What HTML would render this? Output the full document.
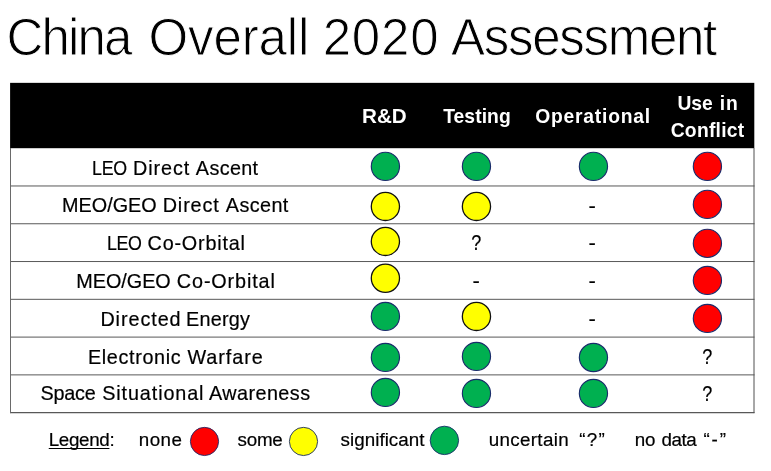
<!DOCTYPE html>
<html lang="en"><head><meta charset="utf-8"><title>China Overall 2020 Assessment</title>
<style>
html,body{margin:0;padding:0;background:#fff}
body{width:771px;height:471px;position:relative;overflow:hidden;font-family:"Liberation Sans",sans-serif;color:#000}
svg{position:absolute;left:0;top:0}
.t{position:absolute;white-space:nowrap;line-height:1;display:block;margin:0;font-weight:normal}
.title{-webkit-text-stroke:0.9px #fff;color:#000}
.t.hd{font-weight:bold;color:#fff}
.lb,.lg,.sy{-webkit-text-stroke:0.2px #000}
.u{text-decoration:underline;text-decoration-thickness:1.2px;text-underline-offset:2.3px;text-decoration-skip-ink:none}
</style></head><body>
<svg width="771" height="471" viewBox="0 0 771 471">
<rect x="10.1" y="82.85" width="744.2" height="65.35" fill="#000"/>
<line x1="10.5" y1="185.98" x2="754.5" y2="185.98" stroke="#585858" stroke-width="1"/>
<line x1="10.5" y1="223.76" x2="754.5" y2="223.76" stroke="#585858" stroke-width="1"/>
<line x1="10.5" y1="261.54" x2="754.5" y2="261.54" stroke="#585858" stroke-width="1"/>
<line x1="10.5" y1="299.32" x2="754.5" y2="299.32" stroke="#585858" stroke-width="1"/>
<line x1="10.5" y1="337.10" x2="754.5" y2="337.10" stroke="#585858" stroke-width="1"/>
<line x1="10.5" y1="374.88" x2="754.5" y2="374.88" stroke="#585858" stroke-width="1"/>
<line x1="10" y1="412.66" x2="754.5" y2="412.66" stroke="#585858" stroke-width="1.1"/>
<line x1="10.5" y1="148" x2="10.5" y2="413.1" stroke="#6a6a6a" stroke-width="1"/>
<line x1="754.0" y1="148" x2="754.0" y2="413.1" stroke="#505050" stroke-width="1"/>
<circle cx="385.4" cy="166.4" r="14.1" fill="#00B050" stroke="#1a2b6b" stroke-width="1.15"/>
<circle cx="476.45" cy="166.4" r="14.1" fill="#00B050" stroke="#1a2b6b" stroke-width="1.15"/>
<circle cx="593.45" cy="166.4" r="14.1" fill="#00B050" stroke="#1a2b6b" stroke-width="1.15"/>
<circle cx="707.4" cy="166.4" r="14.1" fill="#FF0000" stroke="#1a2b6b" stroke-width="1.15"/>
<circle cx="385.4" cy="206.4" r="14.1" fill="#FFFF00" stroke="#111" stroke-width="1.3"/>
<circle cx="476.45" cy="206.4" r="14.1" fill="#FFFF00" stroke="#111" stroke-width="1.3"/>
<circle cx="707.4" cy="204.4" r="14.1" fill="#FF0000" stroke="#1a2b6b" stroke-width="1.15"/>
<circle cx="385.4" cy="241.4" r="14.1" fill="#FFFF00" stroke="#111" stroke-width="1.3"/>
<circle cx="707.4" cy="243.4" r="14.1" fill="#FF0000" stroke="#1a2b6b" stroke-width="1.15"/>
<circle cx="385.4" cy="278.2" r="14.1" fill="#FFFF00" stroke="#111" stroke-width="1.3"/>
<circle cx="707.4" cy="280.4" r="14.1" fill="#FF0000" stroke="#1a2b6b" stroke-width="1.15"/>
<circle cx="385.4" cy="316.4" r="14.1" fill="#00B050" stroke="#1a2b6b" stroke-width="1.15"/>
<circle cx="476.45" cy="316.4" r="14.1" fill="#FFFF00" stroke="#111" stroke-width="1.3"/>
<circle cx="707.4" cy="318.4" r="14.1" fill="#FF0000" stroke="#1a2b6b" stroke-width="1.15"/>
<circle cx="385.4" cy="357.4" r="14.1" fill="#00B050" stroke="#1a2b6b" stroke-width="1.15"/>
<circle cx="476.45" cy="356.4" r="14.1" fill="#00B050" stroke="#1a2b6b" stroke-width="1.15"/>
<circle cx="593.45" cy="357.5" r="14.1" fill="#00B050" stroke="#1a2b6b" stroke-width="1.15"/>
<circle cx="385.4" cy="392.4" r="14.1" fill="#00B050" stroke="#1a2b6b" stroke-width="1.15"/>
<circle cx="476.45" cy="393.4" r="14.1" fill="#00B050" stroke="#1a2b6b" stroke-width="1.15"/>
<circle cx="593.45" cy="393.4" r="14.1" fill="#00B050" stroke="#1a2b6b" stroke-width="1.15"/>
<circle cx="204.5" cy="441.45" r="14.1" fill="#FF0000" stroke="#1a2b6b" stroke-width="0.9"/>
<circle cx="303.5" cy="441.45" r="14.1" fill="#FFFF00" stroke="#1a2b6b" stroke-width="0.9"/>
<circle cx="444.4" cy="440.4" r="14.2" fill="#00B050" stroke="#1a2b6b" stroke-width="0.9"/>
</svg>
<h1 class="t title" id="t" style="left:9.50px;top:11.83px;font-size:51px"><span id="t_0" style="letter-spacing:-1.800px;margin-left:-3.14px">China</span> <span id="t_1" style="letter-spacing:-0.120px;margin-left:3.65px">Overall</span> <span id="t_2" style="letter-spacing:0.825px;margin-left:-0.68px">2020</span> <span id="t_3" style="letter-spacing:-1.275px;margin-left:-2.63px">Assessment</span></h1>
<div class="t hd" id="h1" style="left:363.50px;top:107.46px;font-size:19.3px"><span id="h1_0" style="margin-left:-1.14px;display:inline-block;transform:scaleX(1.07);transform-origin:0 50%">R&amp;D</span></div>
<div class="t hd" id="h2" style="left:443.40px;top:107.46px;font-size:19.3px"><span id="h2_0" style="letter-spacing:0.080px;margin-left:-0.27px">Testing</span></div>
<div class="t hd" id="h3" style="left:535.90px;top:107.36px;font-size:19.3px"><span id="h3_0" style="letter-spacing:0.788px;margin-left:-0.73px">Operational</span></div>
<div class="t hd" id="h4" style="left:678.70px;top:93.96px;font-size:19.3px"><span id="h4_0" style="letter-spacing:-0.006px;margin-left:-1.27px">Use</span> <span id="h4_1" style="letter-spacing:0.900px;margin-left:1.56px">in</span></div>
<div class="t hd" id="h5" style="left:671.40px;top:121.46px;font-size:19.3px"><span id="h5_0" style="letter-spacing:0.262px;margin-left:-0.73px">Conflict</span></div>
<div class="t lb" id="r1" style="left:93.30px;top:159.24px;font-size:19.8px"><span id="r1_0" style="letter-spacing:-0.250px;margin-left:-1.36px;display:inline-block;transform:scaleX(0.9);transform-origin:0 50%">LEO</span> <span id="r1_1" style="letter-spacing:0.900px;margin-left:-3.22px">Direct</span> <span id="r1_2" style="letter-spacing:0.360px;margin-left:0.22px">Ascent</span></div>
<div class="t lb" id="r2" style="left:63.60px;top:196.44px;font-size:19.8px"><span id="r2_0" style="letter-spacing:0.005px;margin-left:-1.52px">MEO/GEO</span> <span id="r2_1" style="letter-spacing:0.900px;margin-left:0.52px">Direct</span> <span id="r2_2" style="letter-spacing:0.405px;margin-left:0.60px">Ascent</span></div>
<div class="t lb" id="r3" style="left:107.60px;top:234.24px;font-size:19.8px"><span id="r3_0" style="letter-spacing:-0.500px;margin-left:-0.85px;display:inline-block;transform:scaleX(0.9);transform-origin:0 50%">LEO</span> <span id="r3_1" style="letter-spacing:0.800px;margin-left:-2.77px">Co-Orbital</span></div>
<div class="t lb" id="r4" style="left:77.60px;top:272.04px;font-size:19.8px"><span id="r4_0" style="letter-spacing:0.005px;margin-left:-1.40px">MEO/GEO</span> <span id="r4_1" style="letter-spacing:0.875px;margin-left:0.60px">Co-Orbital</span></div>
<div class="t lb" id="r5" style="left:101.90px;top:310.24px;font-size:19.8px"><span id="r5_0" style="letter-spacing:0.937px;margin-left:-1.53px">Directed</span> <span id="r5_1" style="letter-spacing:0.270px;margin-left:-1.12px">Energy</span></div>
<div class="t lb" id="r6" style="left:89.50px;top:348.24px;font-size:19.8px"><span id="r6_0" style="letter-spacing:0.650px;margin-left:-1.58px">Electronic</span> <span id="r6_1" style="letter-spacing:0.946px;margin-left:0.66px">Warfare</span></div>
<div class="t lb" id="r7" style="left:41.30px;top:384.44px;font-size:19.8px"><span id="r7_0" style="letter-spacing:-0.221px;margin-left:-0.77px">Space</span> <span id="r7_1" style="letter-spacing:0.891px;margin-left:1.19px">Situational</span> <span id="r7_2" style="letter-spacing:0.450px;margin-left:-0.98px">Awareness</span></div>
<div class="t sy" id="q1" style="left:472.10px;top:232.28px;font-size:22px;transform:scaleX(0.82);transform-origin:0 0"><span id="q1_0" style="margin-left:-0.77px">?</span></div>
<div class="t sy" id="q2" style="left:703.10px;top:346.28px;font-size:22px;transform:scaleX(0.82);transform-origin:0 0"><span id="q2_0" style="margin-left:-0.77px">?</span></div>
<div class="t sy" id="q3" style="left:703.10px;top:383.08px;font-size:22px;transform:scaleX(0.82);transform-origin:0 0"><span id="q3_0" style="margin-left:-0.77px">?</span></div>
<div class="t sy" id="d1" style="left:473.40px;top:270.18px;font-size:22px"><span id="d1_0" style="margin-left:-0.95px">-</span></div>
<div class="t sy" id="d2" style="left:589.40px;top:194.58px;font-size:22px"><span id="d2_0" style="margin-left:-0.95px">-</span></div>
<div class="t sy" id="d3" style="left:589.40px;top:232.48px;font-size:22px"><span id="d3_0" style="margin-left:-0.95px">-</span></div>
<div class="t sy" id="d4" style="left:589.40px;top:270.18px;font-size:22px"><span id="d4_0" style="margin-left:-0.95px">-</span></div>
<div class="t sy" id="d5" style="left:589.40px;top:307.78px;font-size:22px"><span id="d5_0" style="margin-left:-0.95px">-</span></div>
<div class="t lg" id="l1" style="left:48.75px;top:430.89px;font-size:18.8px"><span id="l1_0" style="letter-spacing:-0.337px"><span class="u">Legend</span>:</span></div>
<div class="t lg" id="l2" style="left:139.90px;top:430.89px;font-size:18.8px"><span id="l2_0" style="letter-spacing:0.450px;margin-left:-1.07px">none</span></div>
<div class="t lg" id="l3" style="left:238.00px;top:430.89px;font-size:18.8px"><span id="l3_0" style="letter-spacing:-0.225px;margin-left:-0.45px">some</span></div>
<div class="t lg" id="l4" style="left:341.00px;top:430.89px;font-size:18.8px"><span id="l4_0" style="letter-spacing:0.040px;margin-left:-0.45px">significant</span></div>
<div class="t lg" id="l5" style="left:489.90px;top:430.89px;font-size:18.8px"><span id="l5_0" style="letter-spacing:0.334px;margin-left:-1.18px">uncertain</span> <span id="l5_1" style="letter-spacing:1.229px;margin-left:5.04px">&ldquo;?&rdquo;</span></div>
<div class="t lg" id="l7" style="left:635.90px;top:430.89px;font-size:18.8px"><span id="l7_0" style="letter-spacing:-0.225px;margin-left:-1.18px">no</span> <span id="l7_1" style="letter-spacing:-0.450px;margin-left:1.18px">data</span> <span id="l7_2" style="letter-spacing:1.919px;margin-left:1.85px">&ldquo;-&rdquo;</span></div>
</body></html>
